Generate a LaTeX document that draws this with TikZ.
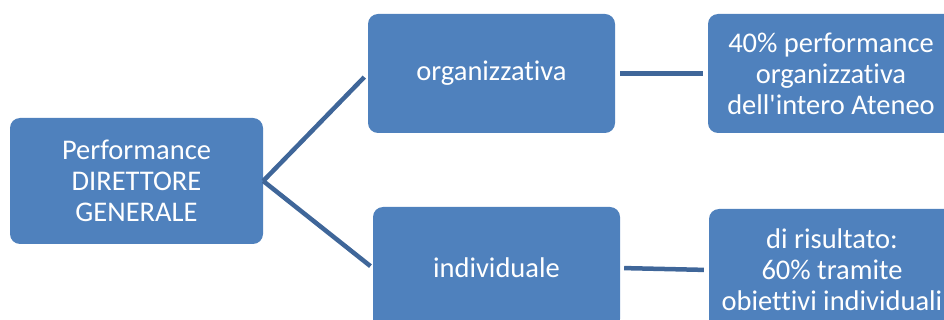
\documentclass[tikz,border=0pt]{standalone}
\usepackage{fontspec}
\setmainfont{Carlito}[Ligatures={TeX,NoCommon}]
\usetikzlibrary{positioning, calc}
\definecolor{boxblue}{HTML}{4F81BD}
\definecolor{lineblue}{HTML}{3F6699}

\begin{document}
\begin{tikzpicture}[
        x=1pt, y=-1pt,
        box/.style={rectangle, rounded corners=10pt, fill=boxblue, text=white, align=center,
            inner sep=0pt, font=\fontsize{28.5}{31}\selectfont},
        link/.style={draw=lineblue, line width=4.5pt},
    ]
        \useasboundingbox (0,0) rectangle (944,320);

        % Draw the root node
        \node[box, minimum width=253pt, minimum height=126pt] (DG) at (136.5,181) {Performance\\DIRETTORE\\GENERALE};

        % Draw the two kinds of performance
        \node[box, minimum width=247pt, minimum height=119pt] (Org) at (491.5,73.5) {organizzativa};
        \node[box, minimum width=247pt, minimum height=122pt] (Ind) at (496.5,268) {individuale};

        % Draw the weights
        \node[box, minimum width=246pt, minimum height=119pt] (OrgW) at (831,73.5) {40\% performance\\organizzativa\\dell\textquotesingle intero Ateneo};
        \node[box, minimum width=246pt, minimum height=122pt] (IndW) at (832,270) {di risultato:\\60\% tramite\\obiettivi individuali};

        % Connect the root with both kinds
        \draw[link, shorten >=5pt] (DG.east) -- (Org.west);
        \draw[link, shorten >=3pt] (DG.east) -- (Ind.west);

        % Connect each kind with its weight
        \draw[link, shorten <=5pt, shorten >=5pt] (Org.east) -- (OrgW.west);
        \draw[link, shorten <=4pt, shorten >=5pt] (Ind.east) -- (IndW.west);
    \end{tikzpicture}
\end{document}
